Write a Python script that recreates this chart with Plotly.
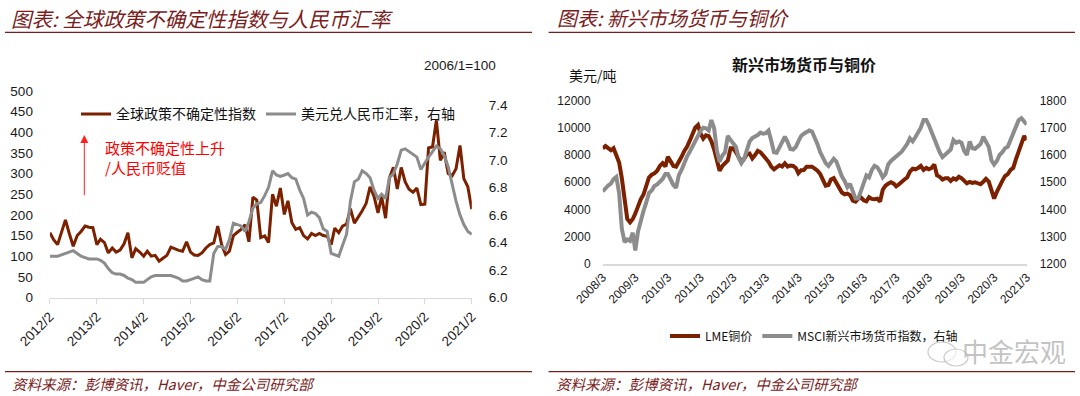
import plotly.graph_objects as go
import pandas as pd

# ---------------- Data: left chart (monthly, 2012/2 - 2021/2) ----------------
left_start = "2012-02-01"
policy_uncertainty = [
    157, 140, 128, 160, 188, 155, 124, 150, 160, 173,
    170, 169, 128, 141, 133, 108, 120, 110, 115, 130,
    157, 96, 118, 110, 100, 112, 100, 102, 88, 95,
    102, 122, 118, 114, 112, 135, 110, 103, 102, 108,
    120, 128, 132, 173, 128, 104, 112, 150, 158, 165,
    176, 135, 243, 236, 145, 149, 133, 250, 221, 265,
    201, 234, 181, 165, 169, 150, 142, 155, 150, 155,
    150, 148, 128, 168, 157, 173, 178, 215, 180, 195,
    210, 228, 268, 245, 205, 245, 192, 290, 315, 263,
    315, 280, 262, 255, 265, 225, 226, 362, 365, 429,
    332, 352, 300, 295, 312, 368, 288, 268, 214,
]
usdcny = [
    6.30, 6.30, 6.30, 6.31, 6.32, 6.33, 6.34, 6.32, 6.30, 6.29,
    6.28, 6.28, 6.28, 6.27, 6.25, 6.21, 6.18, 6.17, 6.17, 6.16,
    6.14, 6.13, 6.11, 6.11, 6.11, 6.13, 6.15, 6.16, 6.16, 6.155,
    6.16, 6.16, 6.15, 6.14, 6.12, 6.12, 6.13, 6.14, 6.15, 6.13,
    6.12, 6.12, 6.32, 6.37, 6.37, 6.35, 6.42, 6.54, 6.53, 6.52,
    6.48, 6.55, 6.65, 6.68, 6.69, 6.74, 6.80, 6.92, 6.89, 6.88,
    6.89, 6.90, 6.87, 6.86, 6.78, 6.72, 6.60, 6.62, 6.61, 6.58,
    6.50, 6.48, 6.32, 6.31, 6.30, 6.38, 6.46, 6.70, 6.84, 6.86,
    6.92, 6.90, 6.87, 6.78, 6.72, 6.75, 6.72, 6.87, 6.90, 6.97,
    7.07, 7.08, 7.06, 7.04, 7.02, 6.93, 6.98, 7.02, 7.06, 7.10,
    7.08, 7.03, 6.95, 6.82, 6.70, 6.60, 6.53, 6.48, 6.46,
]
left_months = pd.date_range(left_start, periods=len(policy_uncertainty), freq="MS")
left_tick_dates = pd.date_range("2012-02-01", "2021-02-01", freq="12MS")
left_tick_text = ["%d/%d" % (d.year, d.month) for d in left_tick_dates]
left_y_ticks = [0, 50, 100, 150, 200, 250, 300, 350, 400, 450, 500]
left_y2_ticks = [6.0, 6.2, 6.4, 6.6, 6.8, 7.0, 7.2, 7.4]

# ---------------- Data: right chart (monthly, 2008/3 - 2021/3) ----------------
right_start = "2008-03-01"
lme_copper = [
    8490, 8650, 8500, 8350, 8500, 7870, 7450, 6300, 4500, 3300,
    3050, 3300, 3700, 4340, 4750, 5100, 5700, 6350, 6550, 6650,
    6850, 7200, 7400, 7150, 7870, 7550, 7200, 7150, 7450, 7870,
    8300, 8600, 9050, 9500, 10000, 10200, 9600, 9200, 9450, 9380,
    9000, 8400, 7700, 6850, 7200, 7400, 7600, 8500, 8500, 8200,
    7800, 7510, 7700, 8050, 8100, 7750, 8000, 8300, 8200, 8000,
    7750, 7500, 7150, 6950, 7100, 7250, 7150, 7390, 7150, 7230,
    7200, 7050, 6660, 6880, 6900, 7140, 7140, 7140, 7000, 6850,
    6600, 6100, 5750, 5800, 6200, 6300, 5920, 5600, 5250, 5120,
    5170, 5050, 4650, 4580, 4800, 4880, 4680, 4600, 4900, 4780,
    4750, 4800, 4580, 5450, 5750, 5900, 6000, 5900, 5700, 5850,
    6050, 6200, 6350, 6780, 7000, 6950, 7050, 7200, 6900, 7050,
    6950, 7050, 7300, 6500, 6400, 6200, 6300, 6300, 6100, 6290,
    6200, 6400, 6300, 6100, 5920, 6030, 5950, 6000, 5950, 5850,
    6040, 6250, 6050, 5400, 4800, 5300, 5750, 6100, 6450, 6600,
    6900, 7050, 7700, 8200, 8900, 9400, 9100,
]
msci_em_fx = [
    1466, 1480, 1488, 1495, 1512, 1520, 1460, 1330, 1280, 1290,
    1285, 1315, 1250, 1320, 1365, 1395, 1425, 1460, 1470, 1486,
    1492, 1502, 1512, 1530, 1530, 1510, 1490, 1480, 1525, 1545,
    1572, 1594, 1612, 1632, 1652, 1670, 1688, 1700, 1698, 1690,
    1728, 1698, 1615, 1575, 1598, 1610, 1670, 1655, 1643, 1630,
    1590, 1570, 1585, 1620, 1650, 1662, 1667, 1673, 1682, 1678,
    1680, 1690, 1652, 1610, 1608, 1628, 1652, 1667, 1647, 1622,
    1620, 1630, 1650, 1670, 1678, 1685, 1690, 1686, 1665, 1640,
    1610, 1590, 1570, 1560, 1575, 1586, 1576, 1545, 1522, 1505,
    1482, 1494, 1470, 1440, 1440, 1470, 1505, 1525, 1518, 1545,
    1560, 1555, 1539, 1518, 1530, 1565, 1578, 1588, 1598, 1604,
    1612, 1625, 1640, 1661, 1650, 1665, 1680, 1700, 1728, 1728,
    1710, 1685, 1655, 1630, 1610, 1592, 1600, 1608, 1620, 1655,
    1645, 1650, 1645, 1615, 1600, 1650, 1625, 1623, 1630, 1640,
    1667, 1652, 1630, 1580, 1565, 1578, 1600, 1610, 1625, 1630,
    1655, 1678, 1705, 1728, 1735, 1725, 1712,
]
right_months = pd.date_range(right_start, periods=len(lme_copper), freq="MS")
right_tick_dates = pd.date_range("2008-03-01", "2021-03-01", freq="12MS")
right_tick_text = ["%d/%d" % (d.year, d.month) for d in right_tick_dates]
right_y_ticks = [0, 2000, 4000, 6000, 8000, 10000, 12000]
right_y2_ticks = [1200, 1300, 1400, 1500, 1600, 1700, 1800]

# ---------------- Styling ----------------
# The page body margin is removed after plotting (post_script), so the
# figure fills the whole 1080x396 window; positions below are window pixels.
W, H = 1080, 396
BROWN = "#7b2100"
GRAY = "#8c8c8c"
TITLE_RED = "#7a1d1d"
CJK = "Noto Sans CJK SC"
NUM = "Liberation Sans"


def px(x):
    return x / W


def py(y):
    return 1 - y / H


fig = go.Figure()

fig.add_trace(go.Scatter(x=left_months, y=policy_uncertainty, name="全球政策不确定性指数",
                         mode="lines", line=dict(color=BROWN, width=3),
                         xaxis="x", yaxis="y", legend="legend"))
fig.add_trace(go.Scatter(x=left_months, y=usdcny, name="美元兑人民币汇率，右轴",
                         mode="lines", line=dict(color=GRAY, width=3),
                         xaxis="x", yaxis="y2", legend="legend"))
fig.add_trace(go.Scatter(x=right_months, y=lme_copper, name="LME铜价",
                         mode="lines", line=dict(color=BROWN, width=4),
                         xaxis="x2", yaxis="y3", legend="legend2"))
fig.add_trace(go.Scatter(x=right_months, y=msci_em_fx, name="MSCI新兴市场货币指数，右轴",
                         mode="lines", line=dict(color=GRAY, width=4),
                         xaxis="x2", yaxis="y4", legend="legend2"))

tickfont_l = dict(family=NUM, size=13.5, color="#1a1a1a")
tickfont_r = dict(family=NUM, size=12, color="#1a1a1a")

fig.update_layout(
    width=W, height=H,
    margin=dict(l=0, r=0, t=0, b=0, pad=0, autoexpand=False),
    paper_bgcolor="white", plot_bgcolor="white",
    showlegend=True,
    xaxis=dict(domain=[px(49.9), px(471.8)], anchor="y", type="date",
               range=[left_months[0], left_months[-1]],
               tickvals=left_tick_dates, ticktext=left_tick_text, tickangle=-45,
               showline=True, linecolor="#d9d9d9", linewidth=1,
               ticks="outside", ticklen=5, tickcolor="#d9d9d9",
               showgrid=False, zeroline=False, tickfont=tickfont_l, automargin=False),
    yaxis=dict(domain=[py(297.5), py(91)], anchor="x", range=[0, 500],
               tickvals=left_y_ticks, showgrid=False, zeroline=False, showline=False,
               ticklabelstandoff=16, tickfont=tickfont_l, automargin=False),
    yaxis2=dict(overlaying="y", side="right", anchor="x", range=[6.0, 7.5],
                tickvals=left_y2_ticks, tickformat=".1f", showgrid=False, zeroline=False,
                showline=False, ticklabelstandoff=16, tickfont=tickfont_l, automargin=False),
    xaxis2=dict(domain=[px(602.7), px(1026.7)], anchor="y3", type="date",
                range=[right_months[0], right_months[-1]],
                tickvals=right_tick_dates, ticktext=right_tick_text, tickangle=-45,
                showline=True, linecolor="#d9d9d9", linewidth=1.5,
                ticks="", showgrid=False, zeroline=False, tickfont=tickfont_r,
                automargin=False),
    yaxis3=dict(domain=[py(264), py(100.5)], anchor="x2", range=[0, 12000],
                tickvals=right_y_ticks, tickformat="d", showgrid=False, zeroline=False,
                showline=False, ticklabelstandoff=11, tickfont=tickfont_r, automargin=False),
    yaxis4=dict(overlaying="y3", side="right", anchor="x2", range=[1200, 1800],
                tickvals=right_y2_ticks, tickformat="d", showgrid=False, zeroline=False,
                showline=False, ticklabelstandoff=12, tickfont=tickfont_r, automargin=False),
    legend=dict(x=px(76), y=py(114.3), xanchor="left", yanchor="middle",
                orientation="h", bgcolor="rgba(0,0,0,0)", itemwidth=30,
                font=dict(family=CJK, size=14, color="#111111")),
    legend2=dict(x=px(665), y=py(336), xanchor="left", yanchor="middle",
                 orientation="h", bgcolor="rgba(0,0,0,0)", itemwidth=30,
                 font=dict(family=CJK, size=12, color="#111111")),
)

annotations = [
    # panel titles
    dict(text="图表: 全球政策不确定性指数与人民币汇率", x=px(10), y=py(18),
         xanchor="left", yanchor="middle", borderpad=0,
         font=dict(family=CJK, size=20.5, color=TITLE_RED, style="italic")),
    dict(text="图表: 新兴市场货币与铜价", x=px(555.5), y=py(18),
         xanchor="left", yanchor="middle", borderpad=0,
         font=dict(family=CJK, size=20, color=TITLE_RED, style="italic")),
    # footers
    dict(text="资料来源：彭博资讯，Haver，中金公司研究部", x=px(10), y=py(383.3),
         xanchor="left", yanchor="middle",
         font=dict(family=CJK, size=14.5, color=TITLE_RED, style="italic")),
    dict(text="资料来源：彭博资讯，Haver，中金公司研究部", x=px(553.8), y=py(383.3),
         xanchor="left", yanchor="middle",
         font=dict(family=CJK, size=14.5, color=TITLE_RED, style="italic")),
    # left chart notes
    dict(text="2006/1=100", x=px(421.7), y=py(65), xanchor="left", yanchor="middle",
         font=dict(family=NUM, size=13.5, color="#1a1a1a")),
    dict(text="政策不确定性上升", x=px(102.6), y=py(147), xanchor="left", yanchor="middle",
         font=dict(family=CJK, size=15, color="#ff0000")),
    dict(text="/人民币贬值", x=px(102.6), y=py(167), xanchor="left", yanchor="middle",
         font=dict(family=CJK, size=15, color="#ff0000")),
    dict(text="", x=px(84.3), y=py(135), ax=0, ay=61.7, showarrow=True,
         arrowhead=2, arrowsize=1.6, arrowwidth=1, arrowcolor="#ff2020", standoff=0),
    # right chart titles
    dict(text="<b>新兴市场货币与铜价</b>", x=px(803.5), y=py(63.5), xanchor="center",
         yanchor="middle", font=dict(family=CJK, size=16, color="#111111")),
    dict(text="美元/吨", x=px(592.5), y=py(75), xanchor="center", yanchor="middle",
         font=dict(family=CJK, size=14, color="#111111")),
    # watermark
    dict(text="中金宏观", x=px(1014), y=py(350), xanchor="center", yanchor="middle",
         font=dict(family=CJK, size=26, color="rgba(185,185,185,0.85)")),
]
for a in annotations:
    a.setdefault("xref", "paper")
    a.setdefault("yref", "paper")
    a.setdefault("showarrow", False)
fig.update_layout(annotations=annotations)

shapes = [
    dict(type="line", x0=px(5), x1=px(532), y0=py(32.3), y1=py(32.3),
         line=dict(color=TITLE_RED, width=1.3)),
    dict(type="line", x0=px(548.6), x1=px(1075), y0=py(32.3), y1=py(32.3),
         line=dict(color=TITLE_RED, width=1.3)),
    dict(type="line", x0=px(5), x1=px(532), y0=py(371.7), y1=py(371.7),
         line=dict(color=TITLE_RED, width=1.3)),
    dict(type="line", x0=px(548.6), x1=px(1075), y0=py(371.7), y1=py(371.7),
         line=dict(color=TITLE_RED, width=1.3)),
    # watermark icon (chat bubbles)
    dict(type="circle", x0=px(928), x1=px(956), y0=py(362), y1=py(342),
         line=dict(color="rgba(190,190,190,0.8)", width=1.2)),
    dict(type="circle", x0=px(944), x1=px(968), y0=py(366), y1=py(349),
         line=dict(color="rgba(190,190,190,0.8)", width=1.2),
         fillcolor="rgba(255,255,255,0.6)"),
]
for s in shapes:
    s["xref"] = "paper"
    s["yref"] = "paper"
fig.update_layout(shapes=shapes)

fig.write_html("out.html",
               config={"displayModeBar": False},
               post_script="document.body.style.margin='0';"
                           "document.body.style.overflow='hidden';")
